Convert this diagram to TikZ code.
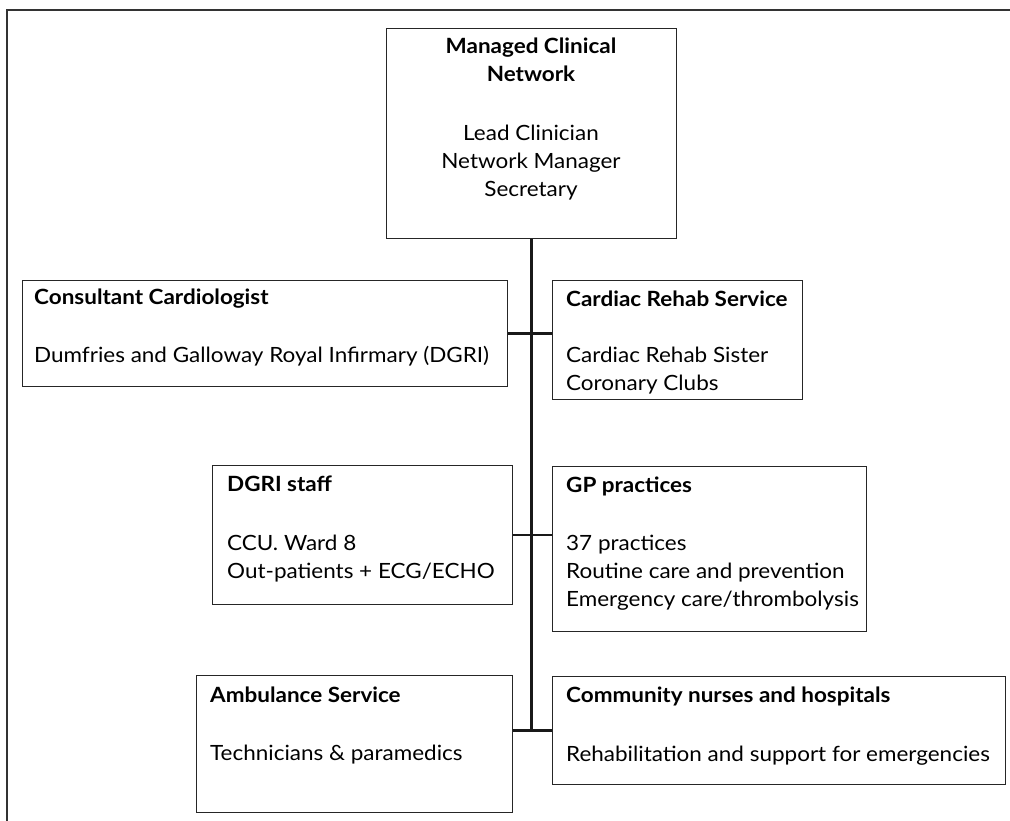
\documentclass[tikz,border=0pt]{standalone}
\usepackage{fontspec}
\setmainfont{Lato}[FakeStretch=1.07]
\begin{document}
\begin{tikzpicture}[x=1pt,y=-1pt,
  box/.style={draw=black!85,line width=1.3pt,rectangle,inner sep=0pt,anchor=north west},
  head/.style={anchor=base west,inner sep=0pt,font=\fontsize{21}{28}\selectfont\bfseries},
  body/.style={anchor=base west,inner sep=0pt,font=\fontsize{21}{28}\selectfont,align=left},
  link/.style={draw=black!90,line width=2.6pt},
  frame/.style={draw=black!80,line width=2pt}]
\useasboundingbox (0,0) rectangle (1010,821);
% frame
\coordinate (fr) at (1010,10);
\coordinate (fc) at (7,10);
\coordinate (fb) at (7,821);
\draw[frame] (fr) -- (fc) -- (fb);
% boxes
\node[box,minimum width=290pt,minimum height=210pt] (mcn) at (386,28) {};
\node[box,minimum width=485pt,minimum height=106pt] (cons) at (22,280) {};
\node[box,minimum width=250pt,minimum height=119pt] (rehab) at (552,280) {};
\node[box,minimum width=300pt,minimum height=139pt] (dgri) at (212,465) {};
\node[box,minimum width=314pt,minimum height=165pt] (gp) at (552,466) {};
\node[box,minimum width=316pt,minimum height=137pt] (amb) at (196,675) {};
\node[box,minimum width=453pt,minimum height=108pt] (comm) at (552,676) {};
% texts (base anchor = last line)
\node[anchor=base,inner sep=0pt,font=\fontsize{21}{28}\selectfont\bfseries,align=center] (mcnh) at (531,82) {Managed Clinical\\Network};
\node[anchor=base,inner sep=0pt,font=\fontsize{21}{28}\selectfont,align=center] (mcnb) at (531,197) {Lead Clinician\\Network Manager\\Secretary};
\node[head] (consh) at (34,305) {Consultant Cardiologist};
\node[body] (consb) at (34,362) {Dumfries and Galloway Royal Infirmary (DGRI)};
\node[head] (rehabh) at (566,306) {Cardiac Rehab Service};
\node[body] (rehabb) at (566,390) {Cardiac Rehab Sister\\Coronary Clubs};
\node[head] (dgrih) at (227,491) {DGRI staff};
\node[body] (dgrib) at (227,578) {CCU. Ward 8\\Out-patients + ECG/ECHO};
\node[head] (gph) at (566,492) {GP practices};
\node[body] (gpb) at (566,606) {37 practices\\Routine care and prevention\\Emergency care/thrombolysis};
\node[head] (ambh) at (210,702) {Ambulance Service};
\node[body] (ambb) at (210,760) {Technicians \& paramedics};
\node[head] (commh) at (566,702) {Community nurses and hospitals};
\node[body] (commb) at (566,761) {Rehabilitation and support for emergencies};
% connectors
\draw[link] (mcn.south) -- (mcn.south |- comm.west);
\draw[link] (cons.east) -- (rehab.west |- cons.east);
\draw[link] (dgri.east) -- (gp.west |- dgri.east);
\draw[link] (amb.east |- comm.west) -- (comm.west);
\end{tikzpicture}
\end{document}
